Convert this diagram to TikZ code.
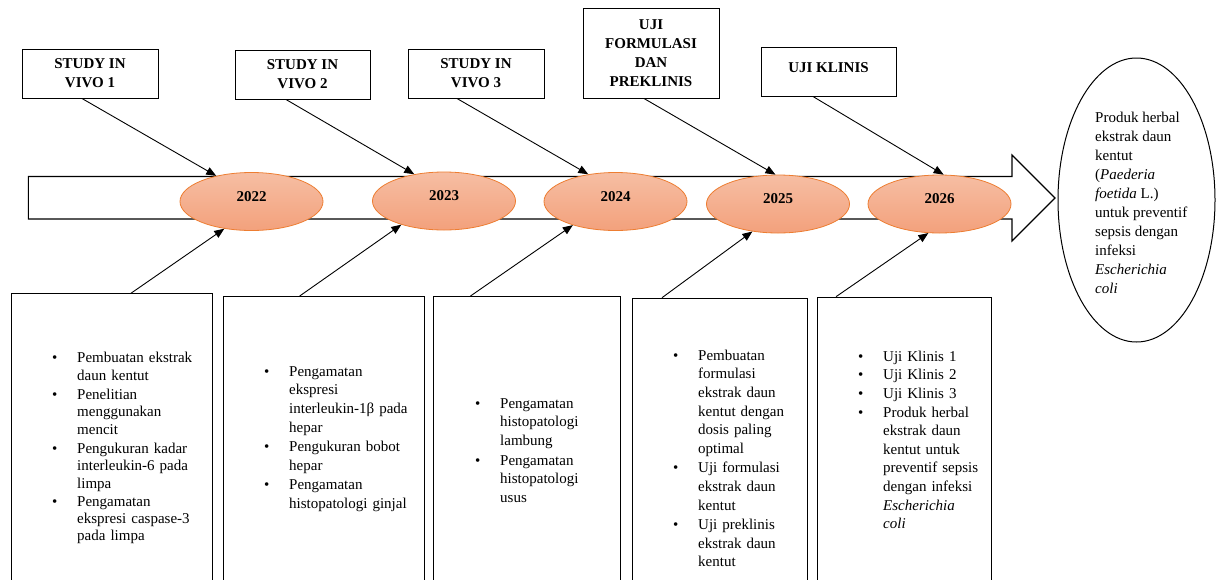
\documentclass[tikz,border=0pt]{standalone}
\usepackage{fontspec}
\setmainfont{Liberation Serif}
\usepackage{tikz}
\usetikzlibrary{positioning,arrows.meta,shapes.geometric}
\definecolor{oranyeatas}{HTML}{F6BEA3}
\definecolor{oranyebawah}{HTML}{F3A17C}
\definecolor{oranyegaris}{HTML}{ED7D31}
\newcommand{\butir}[1]{\par\noindent\hbox to 25pt{\textbullet\hfil}\begin{tabular}[t]{@{}l@{}}#1\end{tabular}}

\begin{document}
\begin{tikzpicture}
		[x=1pt,y=-1pt,
		kotak/.style={draw,line width=1pt,align=center,inner sep=0pt,font=\bfseries\fontsize{15}{19}\selectfont},
		tahun/.style={ellipse,draw=oranyegaris,line width=.8pt,top color=oranyeatas,bottom color=oranyebawah,minimum width=143pt,minimum height=58pt,inner sep=0pt,text depth=10pt,font=\bfseries\fontsize{15}{18}\selectfont},
		wadah/.style={draw,line width=1pt,anchor=north,minimum height=320pt,inner sep=0pt},
		daftar/.style={anchor=north west,text width=200pt,inner sep=0pt,align=left,font=\fontsize{15}{18.6}\selectfont},
		panah/.style={line width=.9pt,-{Triangle[length=10pt,width=8pt]}}]
		\useasboundingbox (0,0) rectangle (1216,579);
		\clip (0,0) rectangle (1216,579);
		\draw[line width=1.1pt,fill=white] (28.3,176.5) -- (1012,176.5) -- (1012,155) -- (1055,198) -- (1012,241) -- (1012,219) -- (28.3,219) -- cycle;
		\node[tahun] (y1) at (251.5,201.5) {2022};
		\node[tahun] (y2) at (444,201) {2023};
		\node[tahun] (y3) at (615.5,201.5) {2024};
		\node[tahun] (y4) at (778,204) {2025};
		\node[tahun] (y5) at (939.5,204) {2026};
		\node[kotak,minimum width=136pt,minimum height=49pt] (s1) at (90,73.5) {STUDY IN\\VIVO 1};
		\node[kotak,minimum width=135pt,minimum height=49pt] (s2) at (302.5,74.5) {STUDY IN\\VIVO 2};
		\node[kotak,minimum width=136pt,minimum height=49pt] (s3) at (476,73.5) {STUDY IN\\VIVO 3};
		\node[kotak,minimum width=136pt,minimum height=90pt] (s4) at (651,53) {UJI\\FORMULASI\\DAN\\PREKLINIS};
		\node[kotak,minimum width=135pt,minimum height=49pt,text depth=7pt] (s5) at (828.5,71.5) {UJI KLINIS};
		\draw[panah] ([xshift=-8pt]s1.south) -- (y1.144);
		\draw[panah] ([xshift=-16.5pt]s2.south) -- (y2.138);
		\draw[panah] ([xshift=-19pt]s3.south) -- (y3.135);
		\draw[panah] ([xshift=-7pt]s4.south) -- (y4.95);
		\draw[panah] ([xshift=-15.5pt]s5.south) -- (y5.82);
		\node[wadah,minimum width=200.3pt] (b1) at (111.9,293.3) {};
		\node[wadah,minimum width=200.7pt] (b2) at (323.7,296) {};
		\node[wadah,minimum width=187pt] (b3) at (526.5,296) {};
		\node[wadah,minimum width=175pt] (b4) at (719.5,297.7) {};
		\node[wadah,minimum width=174pt] (b5) at (904,296.7) {};
		\draw[panah] ([xshift=19pt]b1.north) -- (y1.225);
		\draw[panah] ([xshift=-24pt]b2.north) -- (y2.209);
		\draw[panah] ([xshift=-56pt]b3.north) -- (y3.209);
		\draw[panah] ([xshift=-57.5pt]b4.north) -- (y4.227);
		\draw[panah] ([xshift=-68pt]b5.north) -- (y5.249);
		\node[daftar,font=\fontsize{15}{17.3}\selectfont] (t1) at (52,345.4) {\lineskip=2pt\butir{Pembuatan ekstrak\\daun kentut}\butir{Penelitian\\menggunakan\\mencit}\butir{Pengukuran kadar\\interleukin-6 pada\\limpa}\butir{Pengamatan\\ekspresi caspase-3\\pada limpa}};
		\node[daftar] (t2) at (264,357.4) {\butir{Pengamatan\\ekspresi\\interleukin-1β pada\\hepar}\butir{Pengukuran bobot\\hepar}\butir{Pengamatan\\histopatologi ginjal}};
		\node[daftar] (t3) at (475,389.4) {\butir{Pengamatan\\histopatologi\\lambung}\butir{Pengamatan\\histopatologi\\usus}};
		\node[daftar] (t4) at (673,341.4) {\butir{Pembuatan\\formulasi\\ekstrak daun\\kentut dengan\\dosis paling\\optimal}\butir{Uji formulasi\\ekstrak daun\\kentut}\butir{Uji preklinis\\ekstrak daun\\kentut}};
		\node[daftar] (t5) at (858,342.4) {\butir{Uji Klinis 1}\butir{Uji Klinis 2}\butir{Uji Klinis 3}\butir{Produk herbal\\ekstrak daun\\kentut untuk\\preventif sepsis\\dengan infeksi\\\textit{Escherichia}\\\textit{coli}}};
		\node[ellipse,draw,line width=1pt,minimum width=157pt,minimum height=284pt,inner sep=0pt] (hasil) at (1136.5,200) {};
		\node[anchor=north west,inner sep=0pt,align=left,font=\fontsize{15}{19}\selectfont] (hasilteks) at (1095,112) {Produk herbal\\ekstrak daun\\kentut\\(\textit{Paederia}\\\textit{foetida} L.)\\untuk preventif\\sepsis dengan\\infeksi\\\textit{Escherichia}\\\textit{coli}};
\end{tikzpicture}
\end{document}
